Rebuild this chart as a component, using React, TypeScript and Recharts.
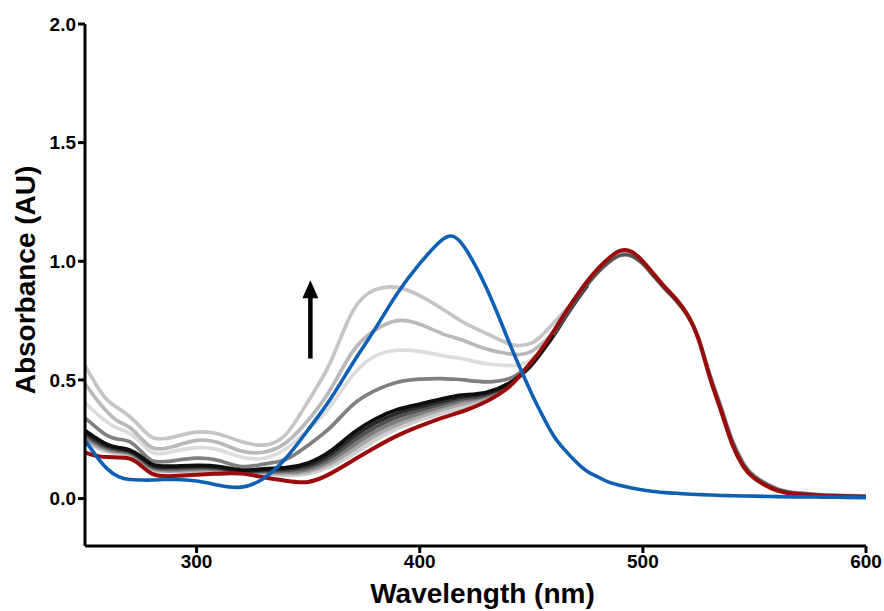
import { LineChart, Line, XAxis, YAxis, ReferenceLine, Label } from "recharts";

const FONT = "'Liberation Sans', Arial, Helvetica, sans-serif";

// wavelength grid (nm)
const WAVELENGTH = [
  250, 255, 260, 265, 270, 275, 280, 285, 290, 300, 310, 320, 330, 340, 350, 360, 370, 380, 390, 400,
  410, 415, 420, 430, 440, 445, 450, 455, 460, 465, 470, 475, 480, 485, 490, 495, 500, 505, 510, 515,
  520, 525, 530, 535, 540, 545, 550, 560, 570, 580, 590, 600,
];

const BLUE = [
  0.245, 0.18, 0.125, 0.092, 0.08, 0.078, 0.078, 0.08, 0.08, 0.074, 0.056, 0.048, 0.085, 0.17, 0.29, 0.42,
  0.57, 0.715, 0.865, 0.99, 1.09, 1.105, 1.06, 0.885, 0.66, 0.55, 0.445, 0.35, 0.265, 0.205, 0.155, 0.115,
  0.09, 0.068, 0.055, 0.044, 0.036, 0.03, 0.025, 0.022, 0.019, 0.017, 0.015, 0.013, 0.012, 0.011, 0.01,
  0.008, 0.007, 0.006, 0.005, 0.004,
];

const RED = [
  0.195, 0.18, 0.175, 0.173, 0.168, 0.14, 0.105, 0.095, 0.095, 0.1, 0.105, 0.105, 0.09, 0.075, 0.07, 0.105,
  0.16, 0.215, 0.265, 0.305, 0.34, 0.355, 0.37, 0.41, 0.47, 0.52, 0.575, 0.635, 0.705, 0.78, 0.85, 0.915,
  0.97, 1.015, 1.045, 1.04, 1.0, 0.945, 0.89, 0.84, 0.775, 0.67, 0.51, 0.37, 0.23, 0.135, 0.085, 0.034,
  0.018, 0.012, 0.009, 0.007,
];

// titration spectra, 250-475 nm (they run under the red trace after that)
const GRAY_1 = [
  0.56, 0.48, 0.415, 0.38, 0.345, 0.3, 0.258, 0.252, 0.26, 0.28, 0.272, 0.24, 0.225, 0.27, 0.41, 0.575,
  0.79, 0.88, 0.89, 0.855, 0.8, 0.77, 0.74, 0.695, 0.652, 0.645, 0.655, 0.69, 0.74, 0.79, 0.845, 0.905,
];
const GRAY_2 = [
  0.485, 0.42, 0.365, 0.325, 0.3, 0.255, 0.215, 0.21, 0.22, 0.245, 0.235, 0.2, 0.195, 0.235, 0.33, 0.46,
  0.62, 0.71, 0.75, 0.735, 0.695, 0.68, 0.665, 0.63, 0.61, 0.607, 0.62, 0.655, 0.7, 0.77, 0.84, 0.9,
];
const GRAY_3 = [
  0.405, 0.36, 0.322, 0.295, 0.275, 0.235, 0.195, 0.19, 0.2, 0.215, 0.205, 0.175, 0.17, 0.21, 0.29, 0.39,
  0.52, 0.6, 0.625, 0.62, 0.603, 0.595, 0.588, 0.568, 0.56, 0.565, 0.585, 0.625, 0.69, 0.765, 0.835, 0.9,
];
const GRAY_4 = [
  0.34, 0.3, 0.265, 0.25, 0.24, 0.2, 0.16, 0.155, 0.16, 0.17, 0.16, 0.135, 0.145, 0.165, 0.225, 0.3,
  0.395, 0.455, 0.49, 0.503, 0.505, 0.503, 0.5, 0.492, 0.505, 0.53, 0.565, 0.62, 0.685, 0.76, 0.83, 0.895,
];
const BAND_1 = [
  0.287, 0.255, 0.228, 0.215, 0.205, 0.178, 0.145, 0.137, 0.137, 0.14, 0.135, 0.12, 0.125, 0.13, 0.15, 0.2,
  0.275, 0.335, 0.375, 0.398, 0.42, 0.43, 0.437, 0.448, 0.485, 0.52, 0.565, 0.625, 0.69, 0.765, 0.835, 0.9,
];
const BAND_2 = [
  0.279, 0.247, 0.222, 0.21, 0.2, 0.173, 0.14, 0.132, 0.132, 0.135, 0.131, 0.117, 0.121, 0.125, 0.141, 0.187,
  0.258, 0.318, 0.36, 0.386, 0.41, 0.421, 0.43, 0.443, 0.483, 0.519, 0.564, 0.624, 0.69, 0.764, 0.834, 0.899,
];
const BAND_3 = [
  0.271, 0.239, 0.216, 0.205, 0.196, 0.168, 0.135, 0.127, 0.127, 0.13, 0.127, 0.115, 0.117, 0.119, 0.132, 0.174,
  0.24, 0.3, 0.344, 0.373, 0.4, 0.412, 0.422, 0.438, 0.482, 0.518, 0.563, 0.623, 0.689, 0.763, 0.833, 0.898,
];
const BAND_4 = [
  0.262, 0.231, 0.21, 0.2, 0.192, 0.163, 0.13, 0.122, 0.121, 0.125, 0.123, 0.113, 0.113, 0.112, 0.123, 0.161,
  0.222, 0.282, 0.327, 0.359, 0.388, 0.401, 0.413, 0.433, 0.481, 0.517, 0.562, 0.622, 0.688, 0.762, 0.832, 0.897,
];
const BAND_5 = [
  0.254, 0.223, 0.204, 0.195, 0.188, 0.159, 0.126, 0.117, 0.116, 0.12, 0.119, 0.111, 0.109, 0.105, 0.114, 0.148,
  0.204, 0.264, 0.311, 0.345, 0.375, 0.388, 0.4, 0.428, 0.48, 0.516, 0.561, 0.621, 0.687, 0.761, 0.831, 0.896,
];
const BAND_6 = [
  0.245, 0.215, 0.198, 0.19, 0.183, 0.155, 0.122, 0.113, 0.112, 0.115, 0.115, 0.11, 0.105, 0.098, 0.105, 0.135,
  0.185, 0.245, 0.295, 0.33, 0.36, 0.373, 0.387, 0.425, 0.479, 0.515, 0.56, 0.62, 0.686, 0.76, 0.83, 0.895,
];

// grey traces that show along the edge of the red band (460-600 nm)
const PEAK_WL = [460, 465, 470, 475, 480, 485, 490, 495, 500, 505, 510, 515, 520, 525, 530, 535, 540, 545, 550, 560, 570, 580, 590, 600];
const PEAK_DARK = [
  0.69, 0.765, 0.835, 0.9, 0.955, 0.998, 1.025, 1.022, 0.988, 0.935, 0.882, 0.832, 0.77, 0.672, 0.52, 0.382,
  0.242, 0.145, 0.092, 0.04, 0.022, 0.015, 0.012, 0.01,
];
const PEAK_LIGHT = [
  0.695, 0.77, 0.84, 0.905, 0.96, 1.004, 1.032, 1.03, 0.994, 0.94, 0.886, 0.836, 0.775, 0.678, 0.527, 0.39,
  0.25, 0.152, 0.097, 0.043, 0.024, 0.017, 0.014, 0.012,
];

const X_TICKS = [300, 400, 500, 600];
const Y_TICKS = [0, 0.5, 1.0, 1.5, 2.0];

const LOW_SERIES = [
  { key: "g3", values: GRAY_3, color: "#dcdcdc" },
  { key: "g2", values: GRAY_2, color: "#b9b9bc" },
  { key: "g1", values: GRAY_1, color: "#c5c5c9" },
  { key: "g4", values: GRAY_4, color: "#7f7f7f" },
  { key: "b6", values: BAND_6, color: "#cfcfcf" },
  { key: "b5", values: BAND_5, color: "#a8a8a8" },
  { key: "b4", values: BAND_4, color: "#7c7c7c" },
  { key: "b3", values: BAND_3, color: "#505050" },
  { key: "b2", values: BAND_2, color: "#2a2a2a" },
  { key: "b1", values: BAND_1, color: "#0e0e0e" },
];

const data = WAVELENGTH.map((wl, i) => {
  const row: Record<string, number | null> = { wl, blue: BLUE[i], red: RED[i] };
  for (const s of LOW_SERIES) row[s.key] = s.values[i] ?? null;
  const p = PEAK_WL.indexOf(wl);
  row.peakLight = p >= 0 ? PEAK_LIGHT[p] : null;
  row.peakDark = p >= 0 ? PEAK_DARK[p] : null;
  return row;
});

const Arrow = (props: any) => {
  const { x1, y1, x2, y2 } = props;
  const head = 18;
  const half = 8;
  return (
    <g>
      <line x1={x1} y1={y1} x2={x2} y2={y2 + head - 2} stroke="#000" strokeWidth={4.5} />
      <polygon points={`${x2},${y2} ${x2 - half},${y2 + head} ${x2 + half},${y2 + head}`} fill="#000" />
    </g>
  );
};

const axisStyle = { stroke: "#000", strokeWidth: 3 };
const tickStyle = { fill: "#000", fontSize: 19, fontWeight: 700, fontFamily: FONT };
const CURVE = "natural" as const;

const App = () => {
  return (
    <div style={{ position: "absolute", left: 0, top: 0, background: "#fff" }}>
      <LineChart width={884} height={611} data={data} margin={{ top: 24, right: 18, bottom: 0, left: 0 }}>
        <XAxis
          dataKey="wl"
          type="number"
          domain={[250, 600]}
          ticks={X_TICKS}
          height={65}
          tickSize={7}
          axisLine={axisStyle}
          tickLine={axisStyle}
          tick={tickStyle}
        >
          <Label
            content={(p: any) => {
              const vb = p.viewBox;
              return (
                <text x={vb.x + vb.width / 2 + 7} y={603} textAnchor="middle" fontFamily={FONT} fontWeight={700} fontSize={28} fill="#000">
                  Wavelength (nm)
                </text>
              );
            }}
          />
        </XAxis>
        <YAxis
          type="number"
          domain={[-0.2, 2.0]}
          ticks={Y_TICKS}
          width={85}
          tickSize={7}
          axisLine={axisStyle}
          tickLine={axisStyle}
          tick={tickStyle}
          tickFormatter={(v: number) => v.toFixed(1)}
          allowDataOverflow
        >
          <Label
            content={(p: any) => {
              const vb = p.viewBox;
              const cx = 35;
              const cy = vb.y + vb.height / 2 - 5;
              return (
                <text x={cx} y={cy} transform={`rotate(-90, ${cx}, ${cy})`} textAnchor="middle" fontFamily={FONT} fontWeight={700} fontSize={28} fill="#000">
                  Absorbance (AU)
                </text>
              );
            }}
          />
        </YAxis>
        {LOW_SERIES.map((s) => (
          <Line key={s.key} dataKey={s.key} type={CURVE} stroke={s.color} strokeWidth={3.7} dot={false} activeDot={false} isAnimationActive={false} />
        ))}
        <Line dataKey="peakLight" type={CURVE} stroke="#b4b4b4" strokeWidth={3.5} dot={false} activeDot={false} isAnimationActive={false} />
        <Line dataKey="peakDark" type={CURVE} stroke="#555" strokeWidth={3.5} dot={false} activeDot={false} isAnimationActive={false} />
        <Line dataKey="red" type={CURVE} stroke="#9a0c0c" strokeWidth={4} dot={false} activeDot={false} isAnimationActive={false} />
        <Line dataKey="blue" type={CURVE} stroke="#0f5fb3" strokeWidth={3.6} dot={false} activeDot={false} isAnimationActive={false} />
        <ReferenceLine segment={[{ x: 351, y: 0.59 }, { x: 351, y: 0.92 }]} shape={Arrow} ifOverflow="visible" />
      </LineChart>
    </div>
  );
};

export default App;
